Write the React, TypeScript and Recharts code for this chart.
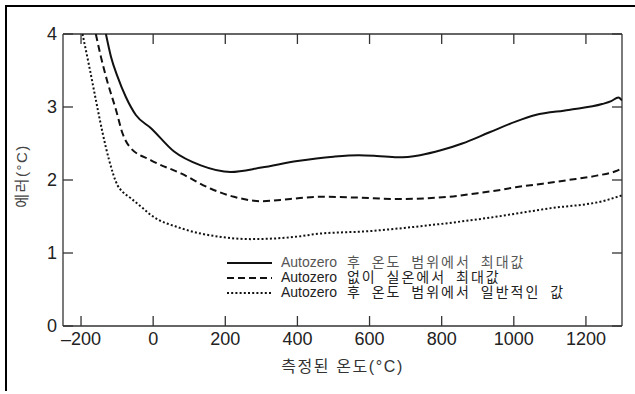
import React from 'react';
import { LineChart, Line, XAxis, YAxis, Legend, ReferenceLine, Label } from 'recharts';

const xTicks = [-200, 0, 200, 400, 600, 800, 1000, 1200];
const yTicks = [0, 1, 2, 3, 4];
const xDomain = [-250, 1300];
const yDomain = [0, 4];

const seriesNames = [
  'Autozero 후 온도 범위에서 최대값',
  'Autozero 없이 실온에서 최대값',
  'Autozero 후 온도 범위에서 일반적인 값',
];

const maxAfterTemps = [-131, -117, -99, -76, -48, -6, 58, 132, 215, 300, 400, 500, 570, 620, 677, 740, 800, 857, 931, 1005, 1060, 1152, 1245, 1270, 1290, 1300];
const maxAfterValues = [4.0, 3.69, 3.42, 3.14, 2.89, 2.71, 2.39, 2.2, 2.11, 2.17, 2.26, 2.32, 2.34, 2.33, 2.31, 2.34, 2.41, 2.5, 2.65, 2.8, 2.89, 2.96, 3.04, 3.08, 3.13, 3.09];

const maxRoomTemps = [-159, -145, -126, -103, -85, -66, -6, 77, 160, 224, 300, 380, 464, 560, 681, 760, 819, 900, 958, 1005, 1080, 1152, 1230, 1282, 1300];
const maxRoomValues = [4.0, 3.69, 3.33, 2.96, 2.64, 2.46, 2.27, 2.09, 1.88, 1.77, 1.71, 1.74, 1.77, 1.76, 1.74, 1.75, 1.77, 1.82, 1.86, 1.9, 1.95, 2.0, 2.06, 2.12, 2.16];

const typicalTemps = [-196, -177, -159, -140, -122, -99, -85, -62, -30, -6, 77, 188, 271, 409, 451, 600, 728, 913, 1097, 1254, 1300];
const typicalValues = [4.0, 3.55, 3.1, 2.64, 2.27, 1.93, 1.84, 1.75, 1.62, 1.52, 1.34, 1.22, 1.19, 1.23, 1.26, 1.3, 1.36, 1.47, 1.61, 1.72, 1.79];

const zip = (ts: number[], vs: number[]) => ts.map((t, i) => ({ t, v: vs[i] }));
const maxAfterData = zip(maxAfterTemps, maxAfterValues);
const maxRoomData = zip(maxRoomTemps, maxRoomValues);
const typicalData = zip(typicalTemps, typicalValues);

const W = 635;
const H = 394;
const MARGIN = { top: 34, right: 13, bottom: 0, left: 0 };
const Y_AXIS_W = 63;
const X_AXIS_H = 68;
const PLOT_W = W - MARGIN.left - MARGIN.right - Y_AXIS_W;
const PLOT_H = H - MARGIN.top - MARGIN.bottom - X_AXIS_H;

const FONT = "'Liberation Sans', Arial, 'Noto Sans CJK KR', sans-serif";
const AXIS_COLOR = '#333';
const TICK_LEN = 10;

const fmtX = (v: number) => (v < 0 ? '\u2013' + Math.abs(v) : String(v));

const XTick = (props: any) => {
  const { x, y, payload } = props;
  return (
    <g>
      <line x1={x} x2={x} y1={y} y2={y - TICK_LEN} stroke={AXIS_COLOR} strokeWidth={1.3} />
      <line x1={x} x2={x} y1={y - PLOT_H} y2={y - PLOT_H + TICK_LEN} stroke={AXIS_COLOR} strokeWidth={1.3} />
      <text x={x} y={y + 13} dy="0.36em" textAnchor="middle" fontFamily={FONT} fontSize={18} fill="#222">
        {fmtX(payload.value)}
      </text>
    </g>
  );
};

const YTick = (props: any) => {
  const { x, y, payload } = props;
  return (
    <g>
      <line x1={x} x2={x + TICK_LEN} y1={y} y2={y} stroke={AXIS_COLOR} strokeWidth={1.3} />
      <line x1={x + PLOT_W} x2={x + PLOT_W - TICK_LEN} y1={y} y2={y} stroke={AXIS_COLOR} strokeWidth={1.3} />
      <text x={x - 6} y={y} dy="0.36em" textAnchor="end" fontFamily={FONT} fontSize={18} fill="#222">
        {payload.value}
      </text>
    </g>
  );
};

const legendColors = ['#555', '#222', '#222'];

const renderLegend = (props: any) => {
  const items = [...(props.payload || [])].sort(
    (a: any, b: any) => seriesNames.indexOf(String(a.value)) - seriesNames.indexOf(String(b.value))
  );
  return (
    <div>
      {items.map((p: any, i: number) => {
        const name = String(p.value);
        const head = name.slice(0, 8);
        const rest = name.slice(8);
        return (
          <div key={i} style={{ display: 'flex', alignItems: 'center', height: 15, whiteSpace: 'nowrap' }}>
            <svg width={47} height={10} style={{ display: 'block' }}>
              <line x1={1} x2={46} y1={5} y2={5} stroke="#111" strokeWidth={2}
                strokeDasharray={p.payload && p.payload.strokeDasharray} />
            </svg>
            <span style={{ marginLeft: 8, fontFamily: FONT, fontSize: 14, color: legendColors[i], lineHeight: '15px' }}>
              {head}
              <span style={{ letterSpacing: 2, wordSpacing: 4 }}>{rest}</span>
            </span>
          </div>
        );
      })}
    </div>
  );
};

export default function App() {
  return (
    <div style={{ position: 'absolute', left: 0, top: 0, width: W, height: H, background: '#fff' }}>
      <div style={{ position: 'absolute', left: 5, top: 4.5, width: 630, height: 2, background: '#000' }} />
      <div style={{ position: 'absolute', left: 5, top: 5, width: 2, height: 386, background: '#000' }} />
      <LineChart width={W} height={H} margin={MARGIN}>
        <XAxis
          dataKey="t"
          type="number"
          domain={xDomain}
          ticks={xTicks}
          allowDataOverflow
          height={X_AXIS_H}
          tickSize={0}
          tickMargin={0}
          tickLine={false}
          axisLine={{ stroke: AXIS_COLOR, strokeWidth: 1.3 }}
          tick={<XTick />}
          interval={0}
        >
          <Label value="측정된 온도(°C)" position="insideBottom" offset={22} fontFamily={FONT} fontSize={16}
            fill="#333" letterSpacing={1.6} />
        </XAxis>
        <YAxis
          type="number"
          domain={yDomain}
          ticks={yTicks}
          allowDataOverflow
          width={Y_AXIS_W}
          tickSize={0}
          tickMargin={0}
          tickLine={false}
          axisLine={{ stroke: AXIS_COLOR, strokeWidth: 1.3 }}
          tick={<YTick />}
          interval={0}
        >
          <Label
            content={(lp: any) => {
              const vb = lp.viewBox || { x: 0, y: MARGIN.top, width: Y_AXIS_W, height: PLOT_H };
              const cx = vb.x + 22;
              const cy = vb.y + vb.height / 2 - 4;
              return (
                <text x={cx} y={cy} transform={`rotate(-90 ${cx} ${cy})`} textAnchor="middle" dy="0.36em"
                  fontFamily={FONT} fontSize={15} fill="#444" letterSpacing={1.5}>
                  에러(°C)
                </text>
              );
            }}
          />
        </YAxis>
        <ReferenceLine y={yDomain[1]} stroke={AXIS_COLOR} strokeWidth={1.3} />
        <ReferenceLine x={xDomain[1]} stroke={AXIS_COLOR} strokeWidth={1.3} />
        <Line data={maxAfterData} dataKey="v" name={seriesNames[0]} type="monotone" stroke="#111" strokeWidth={2}
          dot={false} activeDot={false} isAnimationActive={false} />
        <Line data={maxRoomData} dataKey="v" name={seriesNames[1]} type="monotone" stroke="#111" strokeWidth={2}
          strokeDasharray="7 4" dot={false} activeDot={false} isAnimationActive={false} />
        <Line data={typicalData} dataKey="v" name={seriesNames[2]} type="monotone" stroke="#111" strokeWidth={2}
          strokeDasharray="2 2.2" dot={false} activeDot={false} isAnimationActive={false} />
        <Legend layout="vertical" align="center" verticalAlign="middle" content={renderLegend}
          wrapperStyle={{ left: 226, top: 255, width: 'auto' }} />
      </LineChart>
    </div>
  );
}
